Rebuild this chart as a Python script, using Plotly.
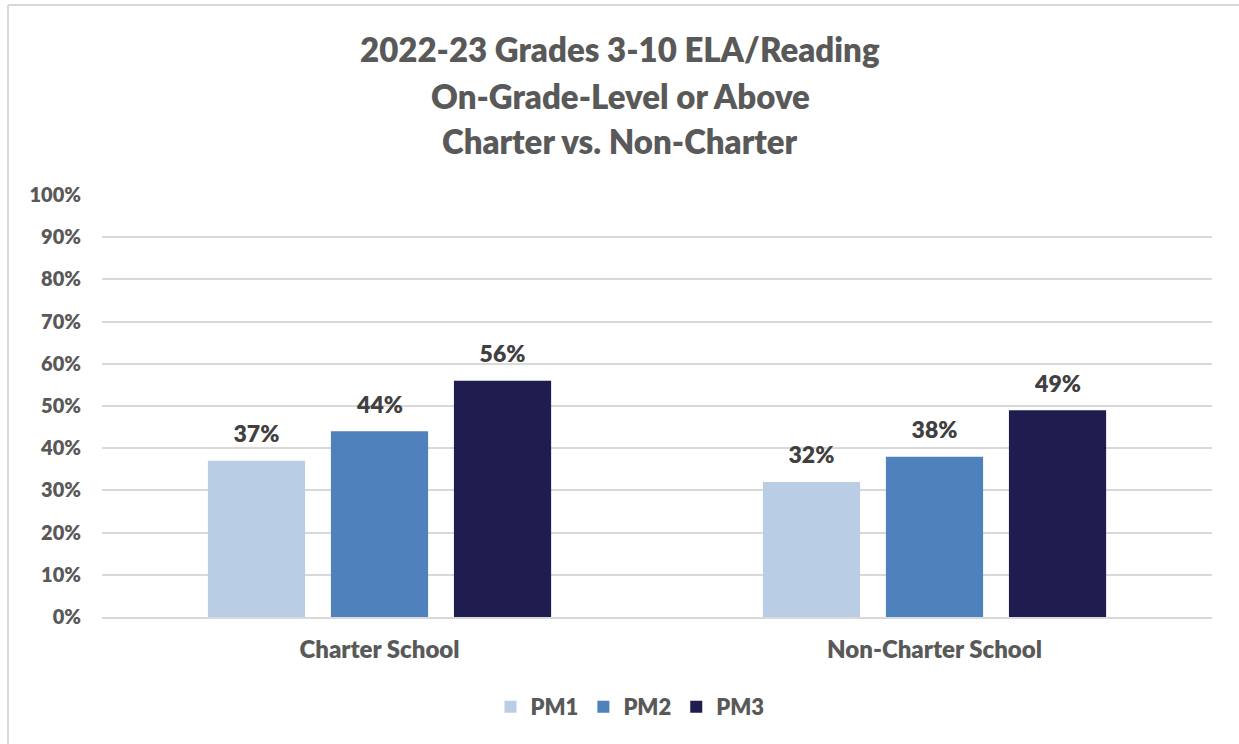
import plotly.graph_objects as go

categories = ["Charter School", "Non-Charter School"]
series_names = ["PM1", "PM2", "PM3"]
pm1 = [0.37, 0.32]
pm2 = [0.44, 0.38]
pm3 = [0.56, 0.49]
series_values = [pm1, pm2, pm3]
colors = ["#b9cde5", "#4f81bd", "#1f1d4f"]
title_lines = ["2022-23 Grades 3-10 ELA/Reading", "On-Grade-Level or Above", "Charter vs. Non-Charter"]
y_ticks = [i / 10 for i in range(11)]
y_tick_labels = [f"{i*10}%" for i in range(11)]

FONT = "Lato, 'Open Sans', sans-serif"
WEIGHT = 800
LABEL_GAP = 0.025  # visual spacing between bar top and its value label

fig = go.Figure()
for i, (name, vals, col) in enumerate(zip(series_names, series_values, colors)):
    fig.add_trace(go.Bar(
        x=categories, y=vals, name=name, marker_color=col, marker_line_width=0,
        offsetgroup=str(i),
    ))
for i, vals in enumerate(series_values):
    fig.add_trace(go.Bar(
        x=categories, y=[LABEL_GAP] * len(vals), base=vals, offsetgroup=str(i),
        marker_color="rgba(0,0,0,0)", marker_line_width=0, showlegend=False,
        hoverinfo="skip",
        text=[f"{round(v*100)}%" for v in vals], textposition="outside",
        textfont=dict(family=FONT, size=23, color="#404040", weight=WEIGHT),
        cliponaxis=False,
    ))

W, H = 1239, 744
L, R, T, B = 102, 27, 195, 127
pw, ph = W - L - R, H - T - B

def px_to_paper_y(py):
    return (H - B - py) / ph

def px_to_paper_x(px):
    return (px - L) / pw

annotations = []
for line, py in zip(title_lines, [49, 96, 141]):
    annotations.append(dict(
        text=line, x=px_to_paper_x(620), y=px_to_paper_y(py), xref="paper", yref="paper",
        xanchor="center", yanchor="middle", showarrow=False,
        font=dict(family=FONT, size=33, color="#595959", weight=WEIGHT),
    ))

shapes = [
    dict(type="line", xref="paper", yref="paper",
         x0=px_to_paper_x(8), x1=px_to_paper_x(1245), y0=px_to_paper_y(5), y1=px_to_paper_y(5),
         line=dict(color="#d9d9d9", width=2)),
    dict(type="line", xref="paper", yref="paper",
         x0=px_to_paper_x(8), x1=px_to_paper_x(8), y0=px_to_paper_y(5), y1=px_to_paper_y(760),
         line=dict(color="#d9d9d9", width=2)),
]

fig.update_layout(
    width=W, height=H,
    margin=dict(l=L, r=R, t=T, b=B),
    paper_bgcolor="white", plot_bgcolor="white",
    barmode="group", bargap=0.335, bargroupgap=0.21,
    annotations=annotations, shapes=shapes,
    showlegend=True,
    legend=dict(orientation="h", x=px_to_paper_x(630), xanchor="center",
                y=px_to_paper_y(707), yanchor="middle",
                font=dict(family=FONT, size=22, color="#595959", weight=WEIGHT),
                itemwidth=30, traceorder="normal"),
    xaxis=dict(showgrid=False, showline=True, linecolor="#d9d9d9", linewidth=2,
               ticks="", ticklabelstandoff=10,
               tickfont=dict(family=FONT, size=24, color="#595959", weight=WEIGHT)),
    yaxis=dict(range=[0, 1], tickvals=y_ticks, ticktext=y_tick_labels,
               showgrid=True, gridcolor="#d9d9d9", gridwidth=2, zeroline=False,
               showline=False, ticks="", ticklabelstandoff=20,
               tickfont=dict(family=FONT, size=20, color="#595959", weight=WEIGHT)),
)

fig.write_html(
    "out.html",
    config={"displayModeBar": False},
    post_script="document.body.style.margin='0';document.body.style.overflow='hidden';",
)
